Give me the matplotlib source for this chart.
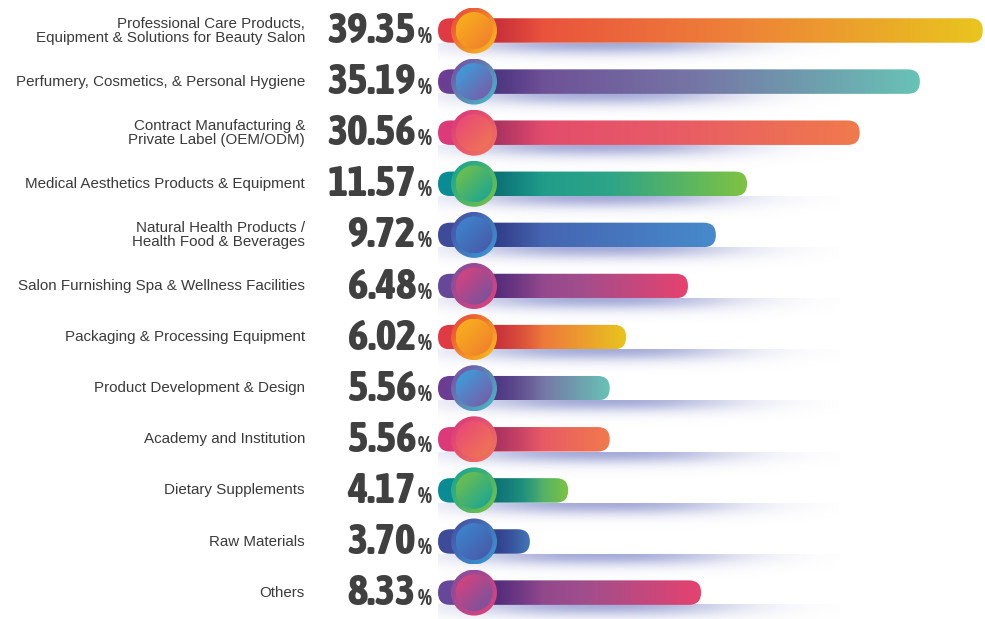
import numpy as np
import matplotlib
matplotlib.use("Agg")
import matplotlib.pyplot as plt
from matplotlib import font_manager as fm
from matplotlib.patches import FancyBboxPatch, Ellipse
from matplotlib.colors import to_rgb
from matplotlib.transforms import blended_transform_factory

categories = [
    "Professional Care Products,\nEquipment & Solutions for Beauty Salon",
    "Perfumery, Cosmetics, & Personal Hygiene",
    "Contract Manufacturing &\nPrivate Label (OEM/ODM)",
    "Medical Aesthetics Products & Equipment",
    "Natural Health Products /\nHealth Food & Beverages",
    "Salon Furnishing Spa & Wellness Facilities",
    "Packaging & Processing Equipment",
    "Product Development & Design",
    "Academy and Institution",
    "Dietary Supplements",
    "Raw Materials",
    "Others",
]
shares = [39.35, 35.19, 30.56, 11.57, 9.72, 6.48, 6.02, 5.56, 5.56, 4.17, 3.70, 8.33]
# drawn bar lengths (the infographic is not to scale), 0-100 track
bar_length = [99.6, 88.1, 77.1, 56.5, 50.8, 45.7, 34.4, 31.4, 31.4, 23.8, 16.8, 48.1]

# colour schemes, cycled over the rows
bar_cap = ["#e03a44", "#6b3d93", "#dc3a79", "#0b8b93", "#3e4b98", "#66489a"]
bar_dark = ["#c42f3a", "#4a3580", "#a3305f", "#0c6d72", "#2f3c86", "#4f2a78"]
bar_start = ["#e8433e", "#6a4190", "#e0456f", "#13958d", "#4557a8", "#7a3f8e"]
bar_mid = ["#ee7f39", "#7676a6", "#e85a66", "#2ea487", "#4670b9", "#a24e8c"]
bar_end = ["#e9c51e", "#68c3b6", "#f07a4c", "#80c342", "#478bcb", "#e6426f"]
ring_a = ["#e8403e", "#7a4a9e", "#d8357f", "#10a39b", "#4a4a9e", "#7c4f9f"]
ring_b = ["#f8c41a", "#45bfcb", "#f4785a", "#7cc242", "#3a9bd6", "#e6407a"]
disk_a = ["#f9b51b", "#35a6e0", "#e8457a", "#7cc242", "#3a8ad0", "#e2407a"]
disk_b = ["#f07a2e", "#7e55a3", "#f07a50", "#12a39b", "#4a55a5", "#6a55a2"]

W, H = 985, 619
X0_PX, TRACK_PX = 438, 547          # bar track in pixels
ROW0_PX, ROW_PX = 30.5, 51.1        # first row centre and row pitch
XU = TRACK_PX / 100.0               # px per x unit


def narrow_bold():
    """Find a condensed/narrow bold face among the installed fonts."""
    cands = []
    for f in fm.fontManager.ttflist:
        tag = (f.name + " " + f.fname + " " + str(f.stretch)).lower()
        if not any(s in tag for s in ("condensed", "narrow", "compressed")):
            continue
        w = f.weight if isinstance(f.weight, int) else fm.weight_dict.get(f.weight, 400)
        if "oblique" in tag or "italic" in tag:
            continue
        cands.append((abs(w - 800), f.fname))
    if cands:
        return fm.FontProperties(fname=sorted(cands)[0][1]), True
    return fm.FontProperties(family="DejaVu Sans", weight="bold"), False


num_font, is_narrow = narrow_bold()

fig = plt.figure(figsize=(W / 100, H / 100), dpi=100)
ax = fig.add_axes([X0_PX / W, 0, TRACK_PX / W, 1])
ax.set_axis_off()
ylim = (-(ROW0_PX) / ROW_PX, (H - ROW0_PX) / ROW_PX)


def lerp3(c0, c1, c2, t):
    c0, c1, c2 = (np.array(to_rgb(c)) for c in (c0, c1, c2))
    t = t[..., None]
    lo = c0 + (c1 - c0) * np.clip(t * 2, 0, 1)
    return np.where(t < 0.5, lo, c1 + (c2 - c1) * np.clip(t * 2 - 1, 0, 1))


def diag(ca, cb, n=80):
    u, v = np.meshgrid(np.linspace(0, 1, n), np.linspace(0, 1, n))
    t = ((u + v) / 2)[..., None]
    a, b = np.array(to_rgb(ca)), np.array(to_rgb(cb))
    return a + (b - a) * t


def clipped(img, extent, patch, z):
    ax.add_patch(patch)
    im = ax.imshow(img, extent=extent, aspect="auto", interpolation="bilinear",
                   origin="upper", zorder=z)
    im.set_clip_path(patch)


bar_h = 24.5 / ROW_PX
cap_r = 12.2 / XU
circ_x = 36 / XU

# shadow footprint: lower half of a soft ellipse hanging from the bar
sx_abs = np.linspace(380, 840, 320)
sy_px = np.linspace(0, 26, 40)
dx = sx_abs - 600
fx = np.exp(-np.abs(dx / np.where(dx < 0, 135, 135)) ** 2.5)
fy = np.exp(-(sy_px / 11.5) ** 2)
shadow = np.zeros((40, 320, 4))
shadow[..., :3] = np.array([160, 167, 214]) / 255
shadow[..., 3] = 0.95 * fy[:, None] * fx[None, :]
sx0, sx1 = (sx_abs[0] - X0_PX) / XU, (sx_abs[-1] - X0_PX) / XU

for i, (length, share) in enumerate(zip(bar_length, shares)):
    k = i % 6
    y = i

    ax.imshow(shadow, extent=(sx0, sx1, y + (12.2 + 26) / ROW_PX, y + 12.2 / ROW_PX),
              aspect="auto", interpolation="bilinear", origin="upper", zorder=1)

    # bar with gradient
    bar = FancyBboxPatch((0, y - bar_h / 2), length, bar_h,
                         boxstyle=f"round,pad=0,rounding_size={cap_r}",
                         mutation_aspect=(1 / ROW_PX) / (1 / XU),
                         facecolor="none", edgecolor="none", zorder=3)
    xs = np.linspace(0, length, 400)
    xpx = xs * XU
    t = np.clip((xpx - 36) / max(length * XU - 36, 1), 0, 1)
    col = lerp3(bar_start[k], bar_mid[k], bar_end[k], t)
    w = np.clip((105 - xpx) / 45, 0, 1)[:, None] * 0.85
    col = col * (1 - w) + np.array(to_rgb(bar_dark[k])) * w
    col[xpx < 36] = to_rgb(bar_cap[k])
    img = np.repeat(col[None, :, :], 2, axis=0)
    clipped(img, (0, length, y + bar_h / 2, y - bar_h / 2), bar, 3)

    # ring + disk
    ro, ri = 23.0, 18.5
    outer = Ellipse((circ_x, y), 2 * ro / XU, 2 * ro / ROW_PX,
                    facecolor="none", edgecolor="none", zorder=5)
    clipped(diag(ring_a[k], ring_b[k]),
            (circ_x - ro / XU, circ_x + ro / XU, y + ro / ROW_PX, y - ro / ROW_PX), outer, 5)
    inner = Ellipse((circ_x, y), 2 * ri / XU, 2 * ri / ROW_PX,
                    facecolor="none", edgecolor="none", zorder=6)
    clipped(diag(disk_a[k], disk_b[k]),
            (circ_x - ri / XU, circ_x + ri / XU, y + ri / ROW_PX, y - ri / ROW_PX), inner, 6)

ax.set_xlim(0, 100)
ax.set_ylim(ylim[1], ylim[0])
ax.set_clip_on(False)

num_size = 31 if is_narrow else 24
tr = blended_transform_factory(fig.transFigure, ax.transData)
for i, (name, share) in enumerate(zip(categories, shares)):
    ax.text(305 / W, i, name, transform=tr, ha="right", va="center",
            multialignment="right", fontsize=10.9, color="#3a3a3a",
            family=["Liberation Sans", "DejaVu Sans"], linespacing=1.0,
            clip_on=False)
    ax.text(416 / W, i + 12.5 / ROW_PX, f"{share:.2f}", transform=tr,
            ha="right", va="baseline", fontproperties=num_font, size=num_size,
            color="#404040", clip_on=False)
    ax.text(418 / W, i + 12.5 / ROW_PX, "%", transform=tr, ha="left",
            va="baseline", fontproperties=num_font, size=16,
            color="#404040", clip_on=False)

fig.savefig("out.png", dpi=100)
